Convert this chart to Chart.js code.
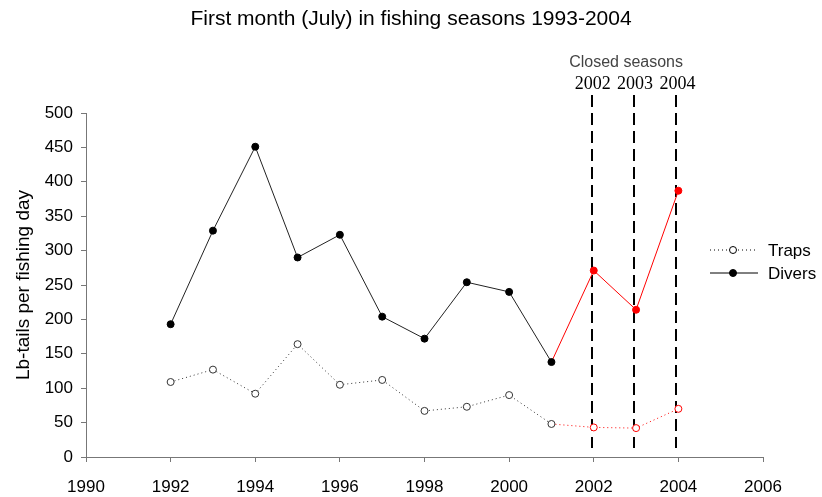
<!DOCTYPE html>
<html lang="en">
<head>
  <meta charset="UTF-8" />
  <title>First month (July) in fishing seasons</title>
  <script src="https://cdn.jsdelivr.net/npm/chart.js"></script>
  <style>
    body { margin: 0; background: white; }
    #wrap { width: 822px; height: 497px; }
  </style>
</head>
<body>
  <div id="wrap"><canvas id="grafico"></canvas></div>

  <script>
    // Data
    const years = [1992, 1993, 1994, 1995, 1996, 1997, 1998, 1999, 2000, 2001, 2002, 2003, 2004];
    const divers = [193, 329, 451, 290, 323, 204, 172, 254, 240, 138, 271, 214, 387];
    const traps = [109, 127, 92, 164, 105, 112, 67, 73, 90, 48, 43, 42, 70];
    const closedSeasons = [2002, 2003, 2004];
    const xTicks = [1990, 1992, 1994, 1996, 1998, 2000, 2002, 2004, 2006];
    const yTicks = [0, 50, 100, 150, 200, 250, 300, 350, 400, 450, 500];

    const RED = '#ff0000';
    const SANS = '"Liberation Sans", Arial, sans-serif';
    const isClosed = yr => closedSeasons.includes(yr);
    const toPoints = vals => years.map((yr, i) => ({ x: yr, y: vals[i] }));
    const redAfter2001 = c => (c.p1.parsed.x > 2001 ? RED : undefined);

    // Title, dashed lines, labels for closed seasons and legend
    const closedPlugin = {
      id: 'closed',
      beforeDatasetsDraw(chart) {
        const { ctx, scales: { x, y } } = chart;
        ctx.save();
        ctx.strokeStyle = '#000';
        ctx.lineWidth = 2;
        ctx.setLineDash([12, 6]);
        closedSeasons.forEach(yr => {
          const px = Math.round(x.getPixelForValue(yr)) - 2;
          ctx.beginPath();
          ctx.moveTo(px, y.top - 18);
          ctx.lineTo(px, y.bottom - 9);
          ctx.stroke();
        });
        ctx.restore();
      },
      afterDraw(chart) {
        const { ctx, scales: { x, y } } = chart;
        ctx.save();
        ctx.textAlign = 'center';
        ctx.textBaseline = 'middle';
        ctx.fillStyle = '#000';
        ctx.font = '21px ' + SANS;
        ctx.fillText('First month (July) in fishing seasons 1993-2004', 411, 19);

        ctx.font = '18px "Liberation Serif", serif';
        closedSeasons.forEach(yr => {
          ctx.fillText(String(yr), x.getPixelForValue(yr) - 1, y.top - 29);
        });
        ctx.fillStyle = '#444';
        ctx.font = '16px ' + SANS;
        ctx.fillText('Closed seasons', x.getPixelForValue(2003) - 10, y.top - 50);

        // legend
        const items = [
          { label: 'Traps', dash: [1, 3], fill: '#fff', top: 250 },
          { label: 'Divers', dash: [], fill: '#000', top: 273 }
        ];
        items.forEach(it => {
          ctx.strokeStyle = '#000';
          ctx.lineWidth = 1;
          ctx.setLineDash(it.dash);
          ctx.beginPath();
          ctx.moveTo(710, it.top);
          ctx.lineTo(758, it.top);
          ctx.stroke();
          ctx.setLineDash([]);
          ctx.beginPath();
          ctx.arc(733, it.top, 3.5, 0, Math.PI * 2);
          ctx.fillStyle = it.fill;
          ctx.fill();
          ctx.stroke();
          ctx.fillStyle = '#000';
          ctx.textAlign = 'left';
          ctx.font = '17px ' + SANS;
          ctx.fillText(it.label, 768, it.top + 1);
        });
        ctx.restore();
      }
    };

    const ctx = document.getElementById('grafico').getContext('2d');
    const chart = new Chart(ctx, {
      type: 'line',
      data: {
        datasets: [
          {
            label: 'Traps',
            data: toPoints(traps),
            borderColor: '#333',
            borderWidth: 1,
            borderDash: [1, 3],
            segment: { borderColor: redAfter2001 },
            pointRadius: 3.5,
            pointBackgroundColor: '#fff',
            pointBorderColor: years.map(yr => (isClosed(yr) ? RED : '#333')),
            pointBorderWidth: 1
          },
          {
            label: 'Divers',
            data: toPoints(divers),
            borderColor: '#222',
            borderWidth: 1,
            segment: { borderColor: redAfter2001 },
            pointRadius: 3.5,
            pointBackgroundColor: years.map(yr => (isClosed(yr) ? RED : '#000')),
            pointBorderColor: years.map(yr => (isClosed(yr) ? RED : '#000')),
            pointBorderWidth: 1
          }
        ]
      },
      options: {
        responsive: true,
        maintainAspectRatio: false,
        animation: false,
        layout: { padding: { left: 0, right: 59, top: 113, bottom: 0 } },
        plugins: {
          legend: { display: false },
          tooltip: { enabled: false },
          title: { display: false }
        },
        scales: {
          x: {
            type: 'linear',
            min: 1990,
            max: 2006,
            afterBuildTicks: s => { s.ticks = xTicks.map(v => ({ value: v })); },
            afterFit: s => { s.height = 40; },
            border: { color: '#777', width: 1 },
            grid: { drawOnChartArea: false, drawTicks: true, tickLength: 5, color: '#777' },
            ticks: {
              color: '#000',
              padding: 15,
              callback: v => String(v),
              font: { family: SANS, size: 17 }
            }
          },
          y: {
            min: 0,
            max: 500,
            afterBuildTicks: s => { s.ticks = yTicks.map(v => ({ value: v })); },
            afterFit: s => { s.width = 86; },
            border: { color: '#777', width: 1 },
            grid: { drawOnChartArea: false, drawTicks: true, tickLength: 5, color: '#777' },
            ticks: {
              color: '#000',
              padding: 8,
              font: { family: SANS, size: 17 }
            },
            title: {
              display: true,
              text: 'Lb-tails per fishing day',
              color: '#000',
              padding: { top: 12, bottom: 0 },
              font: { family: SANS, size: 19 }
            }
          }
        }
      },
      plugins: [closedPlugin]
    });
  </script>
</body>
</html>
